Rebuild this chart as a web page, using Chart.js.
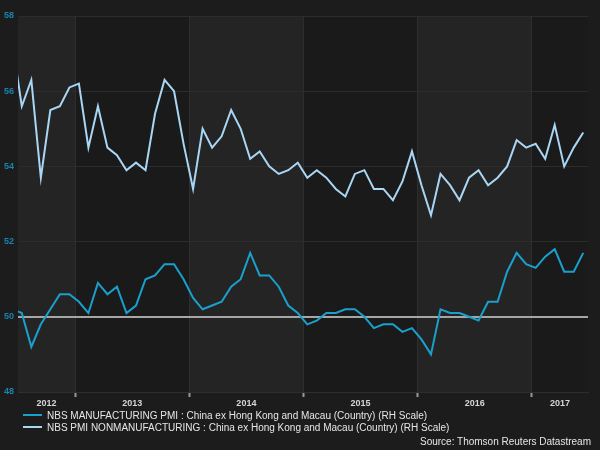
<!DOCTYPE html>
<html>
<head>
<meta charset="utf-8">
<script src="https://cdn.jsdelivr.net/npm/chart.js@4/dist/chart.umd.min.js"></script>
<style>
  html, body { margin: 0; padding: 0; background: #1c1c1c; }
  #wrap { position: relative; width: 600px; height: 450px; }
  #chart { position: absolute; left: 0; top: 0; }
  .leg { position: absolute; left: 23px; font: 10px 'Liberation Sans', Arial, sans-serif; color: #e6e6e6; line-height: 12px; white-space: nowrap; }
  .leg span { display: inline-block; width: 19px; height: 2px; vertical-align: middle; margin-right: 5px; position: relative; top: -1px; }
  #source { position: absolute; right: 9px; top: 436px; font: 10px 'Liberation Sans', Arial, sans-serif; color: #e6e6e6; line-height: 12px; }
</style>
</head>
<body>
<div id="wrap">
  <canvas id="chart" width="600" height="450"></canvas>
  <div class="leg" style="top:410px"><span style="background:#1aa0cc"></span>NBS MANUFACTURING PMI : China ex Hong Kong and Macau (Country) (RH Scale)</div>
  <div class="leg" style="top:422px"><span style="background:#a9d6f5"></span>NBS PMI NONMANUFACTURING : China ex Hong Kong and Macau (Country) (RH Scale)</div>
  <div id="source">Source: Thomson Reuters Datastream</div>
</div>
<script>
// monthly values, June 2012 .. June 2017
const startYear = 2012;
const startMonth = 6;

const manufacturing = [
    50.2, 50.1, 49.2, 49.8, 50.2, 50.6, 50.6,
    50.4, 50.1, 50.9, 50.6, 50.8, 50.1, 50.3, 51.0, 51.1, 51.4, 51.4, 51.0,
    50.5, 50.2, 50.3, 50.4, 50.8, 51.0, 51.7, 51.1, 51.1, 50.8, 50.3, 50.1,
    49.8, 49.9, 50.1, 50.1, 50.2, 50.2, 50.0, 49.7, 49.8, 49.8, 49.6, 49.7,
    49.4, 49.0, 50.2, 50.1, 50.1, 50.0, 49.9, 50.4, 50.4, 51.2, 51.7, 51.4,
    51.3, 51.6, 51.8, 51.2, 51.2, 51.7
];

const nonManufacturing = [
    57.3, 55.6, 56.3, 53.7, 55.5, 55.6, 56.1,
    56.2, 54.5, 55.6, 54.5, 54.3, 53.9, 54.1, 53.9, 55.4, 56.3, 56.0, 54.6,
    53.4, 55.0, 54.5, 54.8, 55.5, 55.0, 54.2, 54.4, 54.0, 53.8, 53.9, 54.1,
    53.7, 53.9, 53.7, 53.4, 53.2, 53.8, 53.9, 53.4, 53.4, 53.1, 53.6, 54.4,
    53.5, 52.7, 53.8, 53.5, 53.1, 53.7, 53.9, 53.5, 53.7, 54.0, 54.7, 54.5,
    54.6, 54.2, 55.1, 54.0, 54.5, 54.9
];

const yearLabels = ['2012', '2013', '2014', '2015', '2016', '2017'];
const yTicks = [48, 50, 52, 54, 56, 58];

// x axis is in months since Jan 2012; each point sits a little into its month
const xMin = 6.0, xMax = 65.9;
const toPoints = arr => arr.map((v, i) => ({ x: (startMonth - 1) + i + 0.4, y: v }));

const yearStarts = yearLabels.map((y, i) => i * 12);
const boundaries = yearStarts.filter(v => v > xMin && v < xMax);
const yearCenters = yearStarts.map(s => (Math.max(s, xMin) + Math.min(s + 12, xMax)) / 2);

const bands = {
    id: 'bands',
    beforeDraw(chart) {
        const { ctx, chartArea, scales } = chart;
        ctx.save();
        ctx.fillStyle = '#1c1c1c';
        ctx.fillRect(0, 0, chart.width, chart.height);
        ctx.fillStyle = '#1a1a1a';
        ctx.fillRect(chartArea.left, chartArea.top, chartArea.width, chartArea.height);
        ctx.fillStyle = '#242424';
        yearStarts.forEach((s, i) => {
            if (i % 2 !== 0) return;
            const x0 = scales.x.getPixelForValue(Math.max(s, xMin));
            const x1 = scales.x.getPixelForValue(Math.min(s + 12, xMax));
            ctx.fillRect(x0, chartArea.top, x1 - x0, chartArea.height);
        });
        ctx.restore();
    }
};

Chart.defaults.font.family = "'Liberation Sans', Arial, sans-serif";

new Chart(document.getElementById('chart'), {
    type: 'line',
    data: {
        datasets: [
            { label: 'NBS MANUFACTURING PMI', data: toPoints(manufacturing), borderColor: '#1aa0cc', borderWidth: 2, pointRadius: 0, tension: 0, clip: 0 },
            { label: 'NBS PMI NONMANUFACTURING', data: toPoints(nonManufacturing), borderColor: '#a9d6f5', borderWidth: 2, pointRadius: 0, tension: 0, clip: 0 }
        ]
    },
    options: {
        responsive: false,
        animation: false,
        layout: { padding: { top: 16, right: 12, left: 0, bottom: 39 } },
        plugins: { legend: { display: false }, tooltip: { enabled: false } },
        scales: {
            x: {
                type: 'linear', min: xMin, max: xMax,
                afterBuildTicks: s => { s.ticks = boundaries.map(v => ({ value: v })); },
                afterFit: s => { s.height = 5; },
                ticks: { display: false },
                grid: { color: '#2e2e2e', tickColor: '#9a9a9a', tickLength: 5, tickWidth: 2 },
                border: { color: '#2e2e2e' }
            },
            years: {
                type: 'linear', position: 'bottom', min: xMin, max: xMax,
                afterBuildTicks: s => { s.ticks = yearCenters.map(v => ({ value: v })); },
                afterFit: s => { s.height = 14; },
                ticks: {
                    autoSkip: false, maxRotation: 0, padding: 1,
                    color: '#d6d6d6', font: { size: 9, weight: 'bold' },
                    callback: (v, i) => yearLabels[i]
                },
                grid: { display: false, drawTicks: false, tickLength: 0 },
                border: { display: false }
            },
            y: {
                position: 'left', min: 48, max: 58,
                afterBuildTicks: s => { s.ticks = yTicks.map(v => ({ value: v })); },
                afterFit: s => { s.width = 18; },
                ticks: { color: '#1784b0', font: { size: 9, weight: 'bold' }, padding: 4 },
                grid: {
                    drawTicks: false,
                    color: c => c.tick && c.tick.value === 50 ? '#a6a6a6' : '#2c2c2c',
                    lineWidth: c => c.tick && c.tick.value === 50 ? 2 : 1
                },
                border: { display: false }
            }
        }
    },
    plugins: [bands]
});
</script>
</body>
</html>
